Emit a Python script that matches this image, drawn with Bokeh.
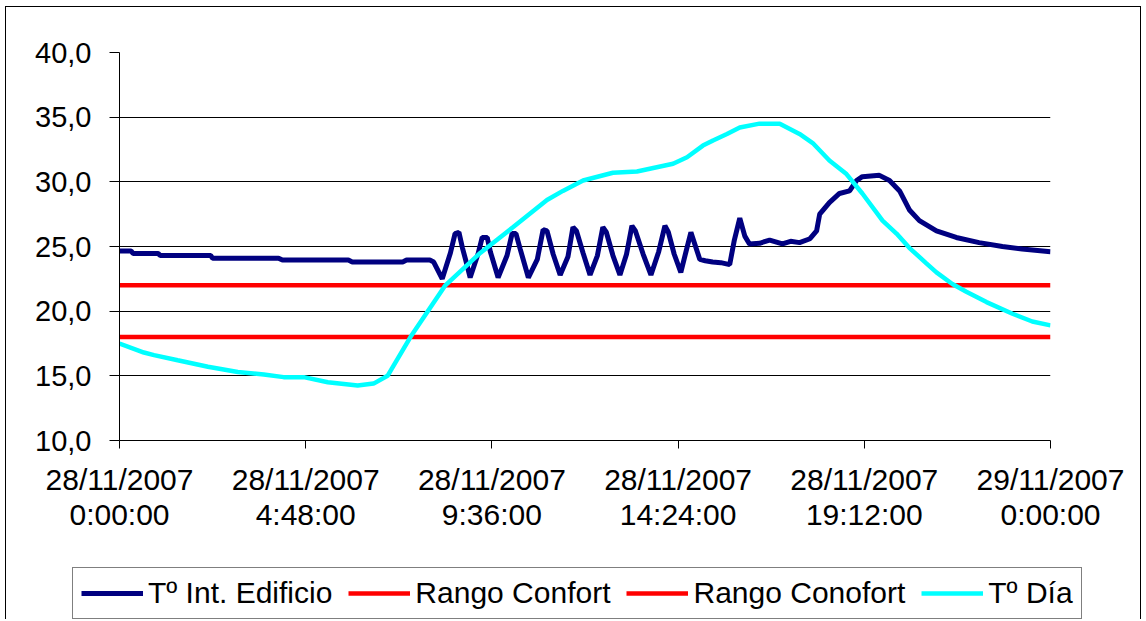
from bokeh.plotting import figure
from bokeh.layouts import column
from bokeh.models import Range1d, FixedTicker, Legend, LegendItem
from bokeh.embed import file_html
from bokeh.resources import INLINE

# ---- data (hours since 28/11/2007 0:00) ----
int_hours = [0, 0.3, 0.35, 1.0, 1.05, 2.35, 2.4, 4.1, 4.2, 5.9, 6.0, 7.3, 7.4, 8.0, 8.1,
             8.32, 8.53, 8.65, 8.75, 8.84, 8.92, 9.04, 9.25, 9.35, 9.48, 9.56, 9.76, 9.99,
             10.12, 10.22, 10.33, 10.54, 10.77, 10.92, 11.02, 11.18, 11.36, 11.56, 11.69,
             11.78, 11.95, 12.13, 12.32, 12.46, 12.55, 12.72, 12.90, 13.07, 13.21, 13.30,
             13.50, 13.70, 13.90, 14.06, 14.15, 14.30, 14.47, 14.62, 14.73, 14.85, 14.96,
             15.10, 15.29, 15.50, 15.73, 15.85, 15.99, 16.12, 16.24, 16.5, 16.76, 17.09,
             17.3, 17.53, 17.8, 17.97, 18.05, 18.3, 18.56, 18.82, 19.0, 19.15, 19.59, 19.85,
             20.11, 20.37, 20.62, 21.06, 21.57, 22.16, 22.76, 23.27, 24.0]
int_temp = [24.65, 24.65, 24.45, 24.45, 24.3, 24.3, 24.1, 24.1, 23.95, 23.95, 23.8, 23.8,
            23.95, 23.95, 23.8, 22.5, 24.5, 26.0, 26.1, 24.9, 24.0, 22.6, 24.5, 25.7, 25.7,
            24.6, 22.6, 24.3, 26.0, 26.0, 24.8, 22.6, 24.0, 26.3, 26.2, 24.4, 22.8, 24.2,
            26.5, 26.2, 24.5, 22.8, 24.3, 26.5, 26.1, 24.3, 22.8, 24.4, 26.6, 26.2, 24.4,
            22.8, 24.6, 26.6, 26.1, 24.4, 23.0, 24.8, 26.1, 25.0, 24.0, 23.9, 23.8, 23.75,
            23.6, 25.5, 27.2, 25.8, 25.2, 25.25, 25.5, 25.2, 25.4, 25.3, 25.6, 26.2, 27.5,
            28.4, 29.1, 29.3, 30.1, 30.4, 30.5, 30.1, 29.3, 27.8, 27.0, 26.2, 25.7, 25.3,
            25.0, 24.8, 24.6]

day_hours = [0, 0.63, 0.89, 1.50, 2.28, 3.05, 3.72, 4.23, 4.75, 5.37, 6.14, 6.55, 6.91, 7.5,
             8.4, 9.3, 10.15, 11.02, 11.43, 11.95, 12.72, 13.34, 14.27, 14.63, 15.04, 15.30,
             15.66, 15.99, 16.5, 17.02, 17.53, 17.87, 18.30, 18.74, 19.15, 19.67, 20.03,
             20.36, 20.80, 21.06, 21.47, 21.83, 22.35, 23.02, 23.53, 24.0]
day_temp = [17.5, 16.8, 16.6, 16.2, 15.7, 15.3, 15.1, 14.9, 14.9, 14.5, 14.25, 14.4, 15.0,
            18.0, 22.0, 24.5, 26.5, 28.6, 29.3, 30.1, 30.7, 30.8, 31.4, 31.9, 32.8, 33.2,
            33.7, 34.2, 34.5, 34.5, 33.7, 33.0, 31.65, 30.6, 29.1, 27.0, 26.0, 24.9, 23.7,
            23.0, 22.1, 21.5, 20.7, 19.8, 19.2, 18.9]

range_hours = [0, 24]
confort_hi = [22.0, 22.0]
confort_lo = [18.0, 18.0]

x_ticks = [0, 4.8, 9.6, 14.4, 19.2, 24]
x_labels = ["28/11/2007\n0:00:00", "28/11/2007\n4:48:00", "28/11/2007\n9:36:00",
            "28/11/2007\n14:24:00", "28/11/2007\n19:12:00", "29/11/2007\n0:00:00"]
y_ticks = [10, 15, 20, 25, 30, 35, 40]
y_labels = ["10,0", "15,0", "20,0", "25,0", "30,0", "35,0", "40,0"]

names = ["Tº Int. Edificio", "Rango Confort", "Rango Conofort", "Tº Día"]
colors = ["#000080", "#FF0000", "#FF0000", "#00FFFF"]
widths = [5, 4.5, 4.5, 4.5]

FONT = "Liberation Sans"

p = figure(output_backend="svg", toolbar_location=None,
           frame_width=931, frame_height=388,
           x_range=Range1d(0, 24), y_range=Range1d(10, 40),
           min_border_left=113, min_border_right=90, min_border_top=45, min_border_bottom=127)
p.outline_line_color = None
p.background_fill_color = "white"
p.border_fill_color = "white"

r1 = p.line(int_hours, int_temp, line_color=colors[0], line_width=widths[0])
r2 = p.line(range_hours, confort_hi, line_color=colors[1], line_width=widths[1])
r3 = p.line(range_hours, confort_lo, line_color=colors[2], line_width=widths[2])
r4 = p.line(day_hours, day_temp, line_color=colors[3], line_width=widths[3])

p.xgrid.visible = False
p.ygrid.ticker = FixedTicker(ticks=y_ticks)
p.ygrid.grid_line_color = "#000000"
p.ygrid.grid_line_width = 1

xa = p.xaxis[0]
xa.ticker = FixedTicker(ticks=x_ticks)
xa.major_label_overrides = {t: l for t, l in zip(x_ticks, x_labels)}
xa.minor_tick_line_color = None
xa.major_tick_in = 0
xa.major_tick_out = 8
xa.major_label_standoff = 14
xa.axis_line_color = "#000000"
xa.major_tick_line_color = "#000000"
xa.major_label_text_font = FONT
xa.major_label_text_font_size = "30px"
xa.major_label_text_color = "#000000"
xa.major_label_text_line_height = 1.08

ya = p.yaxis[0]
ya.ticker = FixedTicker(ticks=y_ticks)
ya.major_label_overrides = {t: l for t, l in zip(y_ticks, y_labels)}
ya.minor_tick_line_color = None
ya.major_tick_in = 0
ya.major_tick_out = 10
ya.major_label_standoff = 18
ya.axis_line_color = "#000000"
ya.major_tick_line_color = "#000000"
ya.major_label_text_font = FONT
ya.major_label_text_font_size = "29px"
ya.major_label_text_color = "#000000"

# ---- legend strip below the chart (series drawn off-range, used only as legend keys) ----
lf = figure(output_backend="svg", toolbar_location=None, width=1134, height=52,
            x_range=Range1d(100, 101), y_range=Range1d(100, 101),
            x_axis_type=None, y_axis_type=None,
            min_border_left=66, min_border_right=0, min_border_top=0, min_border_bottom=0)
if hasattr(lf, "frame_align"):
    lf.frame_align = False
lf.grid.visible = False
lf.outline_line_color = None
lf.background_fill_color = "white"
lf.border_fill_color = "white"
keys = [lf.line(int_hours, int_temp, line_color=colors[0], line_width=widths[0]),
        lf.line(range_hours, confort_hi, line_color=colors[1], line_width=widths[1]),
        lf.line(range_hours, confort_lo, line_color=colors[2], line_width=widths[2]),
        lf.line(day_hours, day_temp, line_color=colors[3], line_width=widths[3])]

legend = Legend(items=[LegendItem(label=n, renderers=[r]) for n, r in zip(names, keys)],
                orientation="horizontal", location="top_left")
legend.label_text_font = FONT
legend.label_text_font_size = "30px"
legend.label_text_color = "#000000"
legend.glyph_width = 62
legend.glyph_height = 30
legend.label_height = 30
legend.label_standoff = 5
legend.spacing = 16
legend.padding = 8
legend.margin = 0
legend.border_line_color = "#000000"
legend.border_line_width = 1
legend.background_fill_color = "white"
legend.background_fill_alpha = 1
lf.add_layout(legend, "center")

layout = column(p, lf, spacing=0)
layout.styles = {"margin-left": "5px", "margin-top": "6px",
                 "border-top": "1px solid #000", "border-left": "1px solid #000",
                 "border-right": "1px solid #000"}

open("out.html", "w").write(file_html(layout, INLINE))
